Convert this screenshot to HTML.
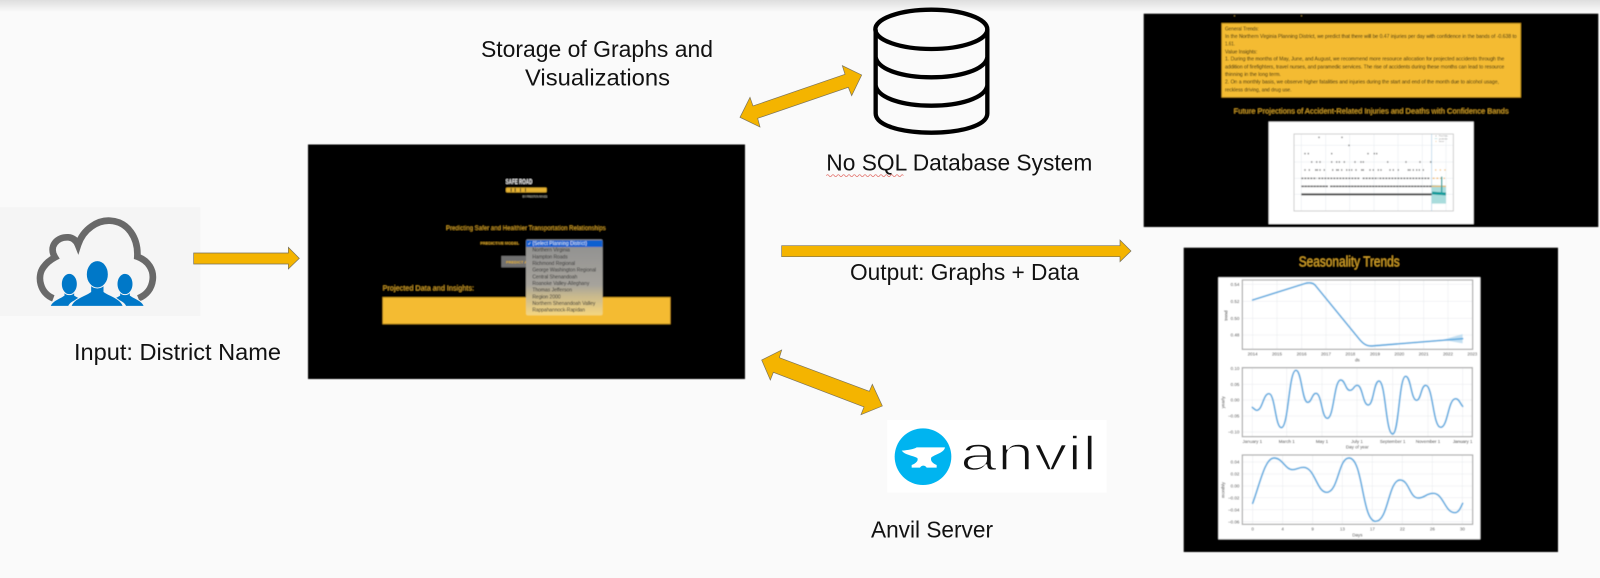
<!DOCTYPE html>
<html><head><meta charset="utf-8"><title>Architecture diagram</title>
<style>
html,body{margin:0;padding:0;background:#fafafa;width:1600px;height:578px;overflow:hidden}
svg{display:block}
text{font-family:"Liberation Sans",sans-serif}
.lbl{fill:#111;font-size:23px}
.t{fill:#333;font-size:13.5px}
.a{fill:#f4b400;stroke:#77705a;stroke-width:2;stroke-linejoin:miter}
.g{stroke:#e6e9ec;stroke-width:1.5;fill:none}
.box{fill:none;stroke:#a8a8a8;stroke-width:3.5}
.c{fill:none;stroke:#62ade0;stroke-width:5;stroke-linecap:round;stroke-linejoin:round}
.y{fill:#1e1a0c;font-size:16.5px}
.d{fill:#2c2c2c;font-size:15.5px}
</style></head><body>
<svg width="1600" height="578" viewBox="0 0 1600 578" xmlns="http://www.w3.org/2000/svg">
<defs>
<linearGradient id="top" x1="0" y1="0" x2="0" y2="1"><stop offset="0" stop-color="#dedede"/><stop offset="1" stop-color="#fafafa"/></linearGradient>
<linearGradient id="dd" x1="0" y1="0" x2="0" y2="1"><stop offset="0" stop-color="#8f8f8f"/><stop offset=".6" stop-color="#a6a39c"/><stop offset=".75" stop-color="#c9b98d"/><stop offset="1" stop-color="#f5d680"/></linearGradient>
<filter id="b" x="-2%" y="-2%" width="104%" height="104%"><feGaussianBlur stdDeviation="0.6"/></filter>
<filter id="b2" x="-2%" y="-2%" width="104%" height="104%"><feGaussianBlur stdDeviation="0.45"/></filter>
</defs>
<rect width="1600" height="578" fill="#fafafa"/>
<rect width="1600" height="12" fill="url(#top)"/>

<!-- Labels -->
<text class="lbl" x="481" y="57" textLength="232" lengthAdjust="spacingAndGlyphs">Storage of Graphs and</text>
<text class="lbl" x="525" y="85.7" textLength="145" lengthAdjust="spacingAndGlyphs">Visualizations</text>
<text class="lbl" x="74" y="360" textLength="207" lengthAdjust="spacingAndGlyphs">Input: District Name</text>
<text class="lbl" x="850" y="280" textLength="229" lengthAdjust="spacingAndGlyphs">Output: Graphs + Data</text>
<text class="lbl" x="826.3" y="170.7" textLength="266" lengthAdjust="spacingAndGlyphs">No SQL Database System</text>
<text class="lbl" x="871" y="537.3" textLength="122" lengthAdjust="spacingAndGlyphs">Anvil Server</text>

<!-- Input icon and arrow -->
<g transform="translate(0,190) scale(.33333)">
<rect x="0" y="52" width="601" height="326" fill="#f5f5f5"/>
<path d="M160 325 C120 310 110 260 130 232 C140 218 150 210 165 202 C145 170 170 140 205 142 C218 143 228 150 234 165 C250 115 295 90 330 92 C385 95 415 145 412 200 C445 212 462 240 458 270 C455 295 440 315 415 325" fill="none" stroke="#696969" stroke-width="20"/>
<g fill="#0078c8" stroke="#f5f5f5" stroke-width="3">
<path d="M150 349 C156 332 178 326 192 316 L192 296 H224 V316 C230 320 236 323 242 325 C224 332 210 338 206 349Z"/>
<ellipse cx="208" cy="282" rx="24" ry="32"/>
<path d="M433 349 C427 332 405 326 391 316 L391 296 H359 V316 C353 320 347 323 341 325 C359 332 373 338 377 349Z"/>
<ellipse cx="375" cy="282" rx="24" ry="32"/>
<path d="M213 349 C220 325 255 318 272 305 L272 280 H312 V305 C330 318 362 325 370 349Z"/>
<ellipse cx="292" cy="253" rx="33" ry="41"/>
</g>
<path class="a" d="M581 189 H865 V172 L898 205 L865 237 V222 H581Z"/>
</g>

<!-- Output arrow -->
<g transform="translate(770,225) scale(.33333)"><path class="a" d="M35 62 H1050 V45 L1083 78 L1050 110 V95 H35Z"/></g>

<!-- Database -->
<g transform="translate(710,0) scale(.33333)">
<g fill="none" stroke="#000" stroke-width="13">
<ellipse cx="664" cy="88" rx="168" ry="59"/>
<path d="M497 88 V340 C497 375 570 398 664 398 C758 398 832 375 832 340 V88"/>
<path d="M497 172 C505 210 580 232 664 232 C748 232 825 210 832 172"/>
<path d="M497 257 C505 295 580 317 664 317 C748 317 825 295 832 257"/>
</g>
<path class="a" d="M90 352 L120 292 L129 318 L405 223 L397 197 L455 225 L425 287 L415 262 L143 355 L150 381Z"/>
<path fill="none" stroke="#e0605a" stroke-width="2" d="M349 527 q4 -6 8 0 t8 0 t8 0 t8 0 t8 0 t8 0 t8 0 t8 0 t8 0 t8 0 t8 0 t8 0 t8 0 t8 0 t8 0 t8 0 t8 0 t8 0 t8 0 t8 0 t8 0 t8 0 t8 0 t8 0 t8 0 t8 0 t8 0 t8 0 t7 0"/>
</g>

<!-- Anvil -->
<g transform="translate(730,330) scale(.33333)">
<path class="a" d="M95 90 L155 60 L148 83 L418 184 L427 163 L457 228 L393 254 L402 231 L130 127 L121 150Z"/>
<rect x="472" y="270" width="658" height="218" fill="#fff"/>
<circle cx="579" cy="380" r="85" fill="#00b4f0"/>
<path fill="#fff" d="M515 362 C535 360 550 358 560 352 H645 C642 368 618 372 604 382 C600 392 608 400 620 405 V413 H590 C585 405 575 405 570 413 H545 V405 C558 400 566 392 562 384 C548 376 525 376 515 362Z"/>
</g>
<text x="960" y="470" font-size="48" fill="#111" stroke="#fff" stroke-width="1.6" textLength="137" lengthAdjust="spacingAndGlyphs">anvil</text>

<!-- Central app panel -->
<g filter="url(#b)">
<rect x="308" y="144.5" width="437" height="234.5" fill="#000"/>
<g transform="translate(300,140) scale(.33333)">
<text x="617" y="132" font-size="22" font-weight="bold" fill="#eee" textLength="80" lengthAdjust="spacingAndGlyphs">SAFE ROAD</text>
<rect x="618" y="143" width="122" height="14" rx="3" fill="#e6b230"/>
<g fill="#222"><rect x="632" y="145" width="3" height="10"/><rect x="644" y="145" width="3" height="10"/><rect x="660" y="145" width="3" height="10"/><rect x="675" y="145" width="3" height="10"/></g>
<text x="668" y="172" font-size="9" fill="#ddc" textLength="74" lengthAdjust="spacingAndGlyphs">BY PRESTON MINCE</text>
<text x="438" y="270" font-size="18" fill="#d9a52a" textLength="479" lengthAdjust="spacingAndGlyphs">Predicting Safer and Healthier Transportation Relationships</text>
<text x="541" y="314" font-size="12" font-weight="bold" fill="#d9a52a" textLength="116" lengthAdjust="spacingAndGlyphs">PREDICTIVE MODEL</text>
<rect x="604" y="348" width="100" height="34" fill="#6f6f6f"/>
<text x="618" y="370" font-size="12" font-weight="bold" fill="#e3b22e">PREDICT AND</text>
<text x="248" y="451" font-size="22" fill="#d9a52a" textLength="274" lengthAdjust="spacingAndGlyphs">Projected Data and Insights:</text>
<rect x="248" y="472" width="863" height="80" fill="#f4bb33" stroke="#a57c1c" stroke-width="2"/>
<rect x="678" y="298" width="230" height="228" rx="6" fill="url(#dd)"/>
<rect x="679" y="301" width="228" height="20" fill="#0a5fd0"/>
<text x="683" y="315" font-size="13" fill="#fff">✓</text>
<text x="697" y="315" font-size="15.5" fill="#e8eefb" textLength="164" lengthAdjust="spacingAndGlyphs">{Select Planning District}</text>
<text class="d" x="697" y="335" textLength="113" lengthAdjust="spacingAndGlyphs">Northern Virginia</text>
<text class="d" x="697" y="355" textLength="106" lengthAdjust="spacingAndGlyphs">Hampton Roads</text>
<text class="d" x="697" y="375" textLength="128" lengthAdjust="spacingAndGlyphs">Richmond Regional</text>
<text class="d" x="697" y="395" textLength="191" lengthAdjust="spacingAndGlyphs">George Washington Regional</text>
<text class="d" x="697" y="415" textLength="135" lengthAdjust="spacingAndGlyphs">Central Shenandoah</text>
<text class="d" x="697" y="435" textLength="171" lengthAdjust="spacingAndGlyphs">Roanoke Valley-Alleghany</text>
<text class="d" x="697" y="455" textLength="119" lengthAdjust="spacingAndGlyphs">Thomas Jefferson</text>
<text class="d" x="697" y="475" textLength="85" lengthAdjust="spacingAndGlyphs">Region 2000</text>
<text class="d" x="697" y="495" textLength="189" lengthAdjust="spacingAndGlyphs">Northern Shenandoah Valley</text>
<text class="d" x="697" y="515" textLength="158" lengthAdjust="spacingAndGlyphs">Rappahannock-Rapidan</text>
</g>
</g>

<!-- Top-right panel -->
<g filter="url(#b)">
<rect x="1143.7" y="13.7" width="454.6" height="213.3" fill="#000"/>
<g transform="translate(1120,0) scale(.33333)">
<rect x="342" y="46" width="3" height="3" fill="#a08030"/><rect x="543" y="46" width="3" height="3" fill="#a08030"/>
<rect x="305" y="70" width="897" height="222" fill="#f4bb33" stroke="#a57c1c" stroke-width="2"/>
<text class="y" x="315" y="91" textLength="102" lengthAdjust="spacingAndGlyphs">General Trends:</text>
<text class="y" x="315" y="114" textLength="875" lengthAdjust="spacingAndGlyphs">In the Northern Virginia Planning District, we predict that there will be 0.47 injuries per day with confidence in the bands of -0.638 to</text>
<text class="y" x="315" y="137" textLength="30" lengthAdjust="spacingAndGlyphs">1.61.</text>
<text class="y" x="315" y="160" textLength="97" lengthAdjust="spacingAndGlyphs">Value Insights:</text>
<text class="y" x="315" y="182" textLength="838" lengthAdjust="spacingAndGlyphs">1.  During the months of May, June, and August, we recommend more resource allocation for projected accidents through the</text>
<text class="y" x="315" y="205" textLength="838" lengthAdjust="spacingAndGlyphs">addition of firefighters, travel nurses, and paramedic services. The rise of accidents during these months can lead to resource</text>
<text class="y" x="315" y="228" textLength="168" lengthAdjust="spacingAndGlyphs">thinning in the long term.</text>
<text class="y" x="315" y="251" textLength="822" lengthAdjust="spacingAndGlyphs">2.  On a monthly basis, we observe higher fatalities and injuries during the start and end of the month due to alcohol usage,</text>
<text class="y" x="315" y="274" textLength="200" lengthAdjust="spacingAndGlyphs">reckless driving, and drug use.</text>
<text x="341" y="341" font-size="23" fill="#d9a52a" textLength="825" lengthAdjust="spacingAndGlyphs">Future Projections of Accident-Related Injuries and Deaths with Confidence Bands</text>
<rect x="446" y="365" width="615" height="307" fill="#fff"/>
</g>
<!-- scatter plot, coords from crop at 1280,125 -->
<g transform="translate(1280,125) scale(.33333)">
<g stroke="#e4e9ee" stroke-width="1.5"><path d="M64 27V258M137 27V258M209 27V258M282 27V258M354 27V258M427 27V258M498 27V258M42 61H520M42 111H520M42 160H520M42 208H520"/></g>
<rect x="42" y="27" width="478" height="231" fill="none" stroke="#c4c4c4" stroke-width="2.5"/>
<path d="M455 27V258" stroke="#a9cfe6" stroke-width="2"/>
<path d="M455 180 L498 182 L498 236 L455 236Z" fill="#a8dcdc"/>
<path d="M64 208H455" stroke="#444" stroke-width="6"/>
<path d="M64 184H145M150 184H455" stroke="#666" stroke-width="5" stroke-dasharray="8 1"/>
<path d="M455 184H498" stroke="#e8b96a" stroke-width="4"/>
<path d="M64 160H110M115 160H240M248 160H295M298 160H450" stroke="#777" stroke-width="5" stroke-dasharray="6 3"/>
<path d="M458 160H495" stroke="#f0b860" stroke-width="4" stroke-dasharray="6 5"/>
<path d="M73 135h4M86 135h4M105 135h4M110 135h4M118 135h4M131 135h4M156 135h4M168 135h4M173 135h4M183 135h4M198 135h4M206 135h4M213 135h4M226 135h4M243 135h4M248 135h4M268 135h4M278 135h4M293 135h4M301 135h4M328 135h4M338 135h4M353 135h4M383 135h4M388 135h4M398 135h4M408 135h4M416 135h4M428 135h4M93 111h4M108 111h4M118 111h4M153 111h4M168 111h4M176 111h4M191 111h4M223 111h4M241 111h4M248 111h4M321 111h4M376 111h4M418 111h4M450 111h4M73 86h4M83 86h4M153 86h4M262 86h4M281 86h4M288 86h4M205 61h4M115 37h4M184 37h4" stroke="#777" stroke-width="4.5"/>
<path d="M465 135h4M479 135h4M493 135h4" stroke="#f0b860" stroke-width="4"/>
<path d="M456 204 L498 207" stroke="#0f9a9a" stroke-width="8"/>
<path d="M485 155V210" stroke="#1aa0a0" stroke-width="4"/>
<g font-size="6" fill="#777"><text x="477" y="35">Past Data</text><text x="477" y="43">prediction</text><text x="477" y="51">future</text></g>
<g fill="#888"><circle cx="468" cy="33" r="1.5"/></g><path d="M464 41h8" stroke="#a8dcdc" stroke-width="2"/><circle cx="468" cy="49" r="1.5" fill="#f0b860"/>
</g>
</g>

<!-- Bottom-right panel -->
<g filter="url(#b2)">
<rect x="1183.7" y="247.7" width="374.3" height="304.3" fill="#000"/>
<rect x="1218.3" y="277.3" width="262" height="262" fill="#fff"/>
<text x="1298.7" y="266.5" font-size="15" fill="#d9a52a" textLength="101" lengthAdjust="spacingAndGlyphs">Seasonality Trends</text>

<g transform="translate(1150,235) scale(.33333)">
<path class="g" d="M308 135V343M381 135V343M455 135V343M528 135V343M601 135V343M675 135V343M748 135V343M821 135V343M894 135V343M277 148H968M277 199H968M277 250H968M277 300H968"/>
<rect class="box" x="277" y="135" width="691" height="208"/>
<path d="M880 314 L938 297 L938 325 L880 315Z" fill="#c5e0f2"/>
<path class="c" d="M308 195 L470 144 C480 143 488 143 495 150 L630 315 C645 332 655 333 665 333 L938 311"/>
<g class="t" text-anchor="end"><text x="268" y="153">0.54</text><text x="268" y="204">0.52</text><text x="268" y="255">0.50</text><text x="268" y="305">0.48</text></g>
<g class="t" text-anchor="middle"><text x="308" y="362">2014</text><text x="381" y="362">2015</text><text x="455" y="362">2016</text><text x="528" y="362">2017</text><text x="601" y="362">2018</text><text x="675" y="362">2019</text><text x="748" y="362">2020</text><text x="821" y="362">2021</text><text x="894" y="362">2022</text><text x="967" y="362">2023</text><text x="622" y="379">ds</text></g>
<text class="t" transform="translate(232,242) rotate(-90)" text-anchor="middle">trend</text>
</g>

<g transform="translate(1210,355) scale(.33333)">
<path class="g" d="M127 38V245M230 38V245M336 38V245M441 38V245M548 38V245M654 38V245M758 38V245M97 40H787M97 88H787M97 135H787M97 183H787M97 231H787"/>
<rect class="box" x="97" y="38" width="690" height="207"/>
<path class="c" d="M127 157 C133 162 136 166 140 166 C158 166 159 116 177 116 C195 116 196 218 214 218 C236 218 236 46 258 46 C275 46 276 142 293 142 C305 142 306 115 318 115 C335 115 335 190 352 190 C372 190 372 75 392 75 C406 75 406 106 420 106 C431 106 431 91 442 91 C458 91 458 150 475 150 C491 150 491 78 507 78 C527 78 527 237 548 237 C567 237 567 64 587 64 C603 64 603 136 620 136 C633 136 633 91 647 91 C669 91 669 217 692 217 C714 217 714 131 737 131 C747 131 750 145 758 154"/>
<g class="t" text-anchor="end"><text x="88" y="45">0.10</text><text x="88" y="93">0.05</text><text x="88" y="140">0.00</text><text x="88" y="188">−0.05</text><text x="88" y="236">−0.10</text></g>
<g class="t" text-anchor="middle"><text x="127" y="264">January 1</text><text x="230" y="264">March 1</text><text x="336" y="264">May 1</text><text x="441" y="264">July 1</text><text x="548" y="264">September 1</text><text x="654" y="264">November 1</text><text x="758" y="264">January 1</text><text x="442" y="281">Day of year</text></g>
<text class="t" transform="translate(43,142) rotate(-90)" text-anchor="middle">yearly</text>
</g>

<g transform="translate(1150,390) scale(.33333)">
<path class="g" d="M308 195V403M398 195V403M488 195V403M577 195V403M667 195V403M757 195V403M847 195V403M937 195V403M277 216H968M277 252H968M277 288H968M277 323H968M277 359H968M277 395H968"/>
<rect class="box" x="277" y="195" width="691" height="208"/>
<path class="c" d="M308 340 C330 280 345 204 372 204 C398 204 405 239 428 239 C442 239 445 232 460 232 C495 232 500 307 530 307 C565 307 565 204 597 204 C640 204 635 394 677 394 C715 394 715 270 750 270 C778 270 778 324 805 324 C825 324 828 310 850 310 C880 310 885 368 914 368 C925 368 930 358 938 340"/>
<g class="t" text-anchor="end"><text x="268" y="221">0.04</text><text x="268" y="257">0.02</text><text x="268" y="293">0.00</text><text x="268" y="328">−0.02</text><text x="268" y="364">−0.04</text><text x="268" y="400">−0.06</text></g>
<g class="t" text-anchor="middle"><text x="308" y="421">0</text><text x="398" y="421">4</text><text x="488" y="421">9</text><text x="577" y="421">13</text><text x="667" y="421">17</text><text x="757" y="421">22</text><text x="847" y="421">26</text><text x="937" y="421">30</text><text x="622" y="440">Days</text></g>
<text class="t" transform="translate(223,300) rotate(-90)" text-anchor="middle">monthly</text>
</g>
</g>
</svg>
</body></html>
